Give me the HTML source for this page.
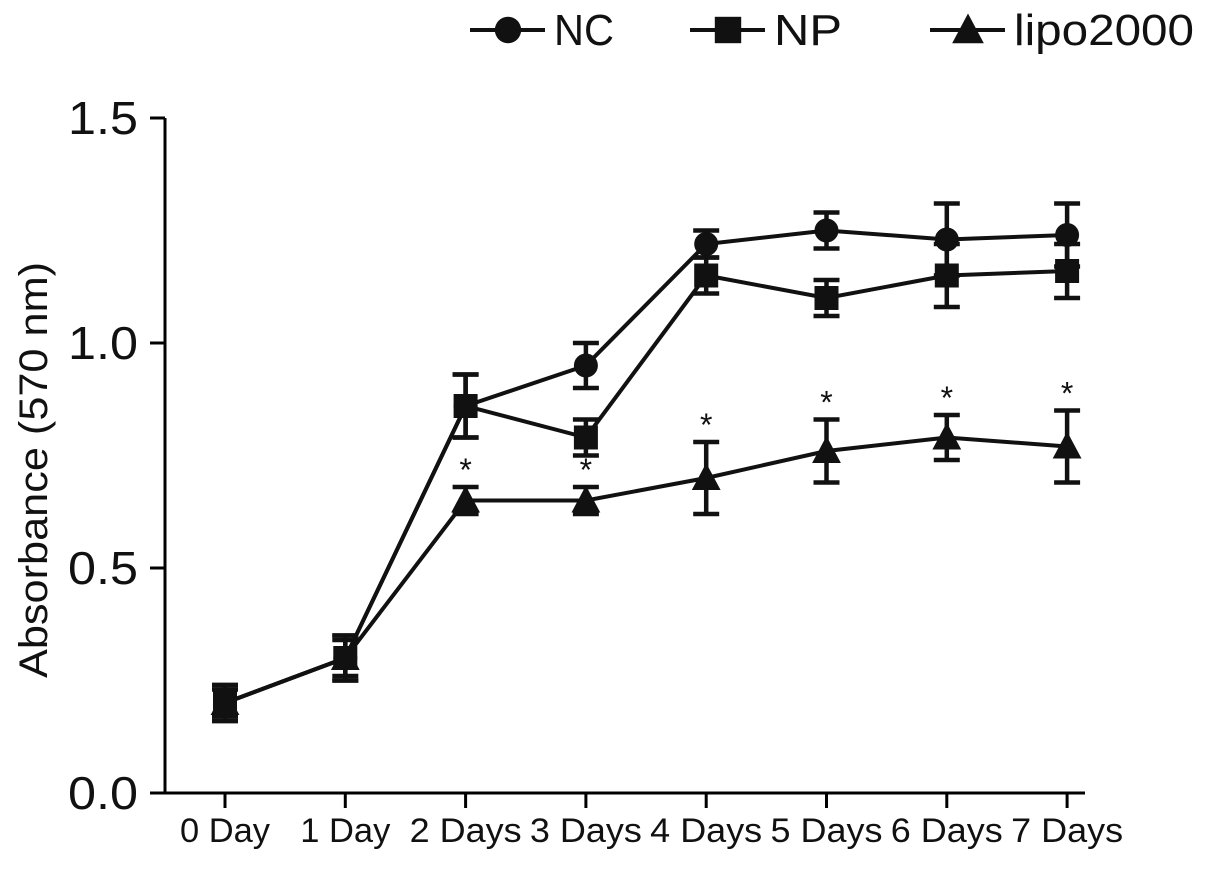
<!DOCTYPE html>
<html><head><meta charset="utf-8"><style>
body{margin:0;background:#fff}
svg{display:block;font-family:"Liberation Sans",Arial,sans-serif}
</style></head><body>
<svg id="chart" width="1205" height="883" viewBox="0 0 1205 883" xmlns="http://www.w3.org/2000/svg"></svg>
<script>
const categories=["0 Day","1 Day","2 Days","3 Days","4 Days","5 Days","6 Days","7 Days"];
const ncValues=[0.2,0.3,0.86,0.95,1.22,1.25,1.23,1.24];
const ncErr=[0.04,0.04,0.07,0.05,0.03,0.04,0.08,0.07];
const npValues=[0.2,0.3,0.86,0.79,1.15,1.10,1.15,1.16];
const npErr=[0.04,0.05,0.07,0.04,0.04,0.04,0.07,0.06];
const lipoValues=[0.2,0.3,0.65,0.65,0.70,0.76,0.79,0.77];
const lipoErr=[0.03,0.05,0.03,0.03,0.08,0.07,0.05,0.08];
const sigFlags=[0,0,1,1,1,1,1,1];
const yTicks=[0,0.5,1.0,1.5];
const yTickLabels=["0.0","0.5","1.0","1.5"];

const NS="http://www.w3.org/2000/svg";
const svg=document.getElementById('chart');
const X0=225,DX=120.3,Y0=793,YMAX=118;
const x=i=>X0+i*DX;
const y=v=>Y0-(v/1.5)*(Y0-YMAX);
function mk(tag,attrs,parent){const e=document.createElementNS(NS,tag);for(const k in attrs)e.setAttribute(k,attrs[k]);(parent||svg).appendChild(e);return e;}

let a=mk('line',{x1:165,y1:YMAX,x2:165,y2:Y0,stroke:'#000','stroke-width':3});


a=mk('line',{x1:165,y1:Y0,x2:1085,y2:Y0,stroke:'#000','stroke-width':3});


yTicks.forEach((t,i)=>{
  const l=mk('line',{x1:150,y1:y(t),x2:165,y2:y(t),stroke:'#000','stroke-width':3});
  
  
  const tx=mk('text',{x:138,y:y(t)+16,'text-anchor':'end','font-size':46,fill:'#111',textLength:70,lengthAdjust:'spacingAndGlyphs'});
  tx.textContent=yTickLabels[i];
  
  
});
categories.forEach((c,i)=>{
  const l=mk('line',{x1:x(i),y1:Y0,x2:x(i),y2:Y0+15,stroke:'#000','stroke-width':3});
  
  
  const tx=mk('text',{x:x(i),y:842,'text-anchor':'middle','font-size':34,fill:'#111',textLength:c.length>5?112:90,lengthAdjust:'spacingAndGlyphs'});
  tx.textContent=c;
  
  
});
const yl=mk('text',{x:0,y:0,transform:'translate(47,470) rotate(-90)','text-anchor':'middle','font-size':40,fill:'#111',textLength:416,lengthAdjust:'spacingAndGlyphs'});
yl.textContent='Absorbance (570 nm)';



function marker(kind,cx,cy,s,parent){
  let m;
  if(kind==='circle')m=mk('circle',{cx:cx,cy:cy,r:s*0.6,fill:'#111'},parent);
  else if(kind==='square')m=mk('rect',{x:cx-s*0.6,y:cy-s*0.6,width:s*1.2,height:s*1.2,fill:'#111'},parent);
  else m=mk('polygon',{points:`${cx},${cy-s*0.75} ${cx-s*0.72},${cy+s*0.6} ${cx+s*0.72},${cy+s*0.6}`,fill:'#111'},parent);
  return m;
}
function series(name,vals,errs,kind){
  const g=mk('g',{});
  
  
  const p=mk('polyline',{points:vals.map((v,i)=>x(i)+','+y(v)).join(' '),fill:'none',stroke:'#111','stroke-width':4},g);
  
  
  vals.forEach((v,i)=>{
    const cx=x(i),t=y(v+errs[i]),b=y(v-errs[i]);
    const e=mk('path',{d:`M${cx},${t}V${b}M${cx-13},${t}H${cx+13}M${cx-13},${b}H${cx+13}`,stroke:'#111','stroke-width':4.5,fill:'none'},g);
    
    
    const m=marker(kind,cx,y(v),20,g);
    
    
  });
}
series('nc',ncValues,ncErr,'circle');
series('np',npValues,npErr,'square');
series('lipo2000',lipoValues,lipoErr,'triangle');
sigFlags.forEach((f,i)=>{
  if(!f)return;
  const s=mk('text',{x:x(i),y:y(lipoValues[i]+lipoErr[i])-6,'text-anchor':'middle','font-size':32,fill:'#111'});
  s.textContent='*';
  
  
});
const legend=[["NC","circle",470,60],["NP","square",690,68],["lipo2000","triangle",930,180]];
legend.forEach(([lab,kind,lx,w])=>{
  const g=mk('g',{});
  
  
  mk('line',{x1:lx,y1:30,x2:lx+75,y2:30,stroke:'#111','stroke-width':4},g);
  marker(kind,lx+38,30,22,g);
  const t=mk('text',{x:lx+84,y:45,'font-size':44,fill:'#111',textLength:w,lengthAdjust:'spacingAndGlyphs'},g);
  t.textContent=lab;
});
</script>
</body></html>
